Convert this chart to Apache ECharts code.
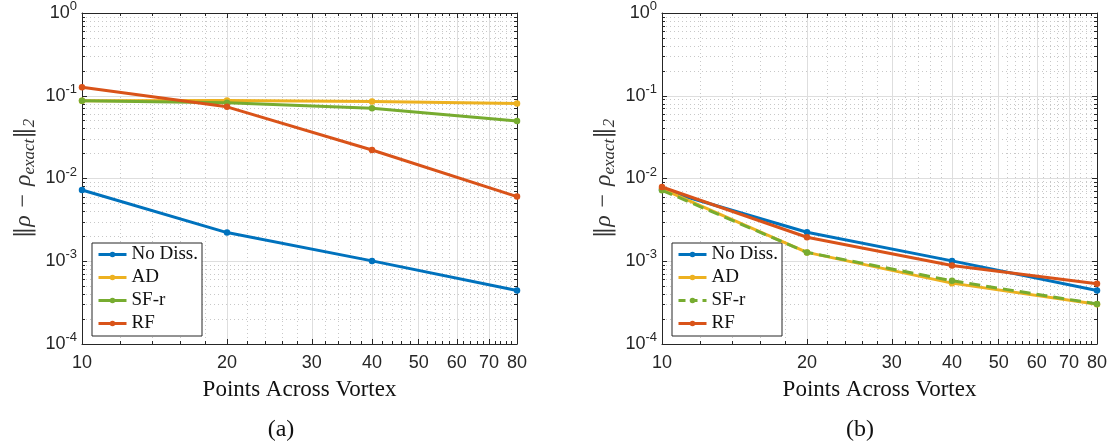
<!DOCTYPE html>
<html>
<head>
<meta charset="utf-8">
<script src="https://cdn.jsdelivr.net/npm/echarts@6/dist/echarts.min.js"></script>
<style>
html, body { margin: 0; padding: 0; background: #fff; }
#chart { width: 1112px; height: 444px; }
</style>
</head>
<body>
<div id="chart"></div>
<script>
var points = [10, 20, 40, 80];
var seriesNames = ['No Diss.', 'AD', 'SF-r', 'RF'];
var seriesColors = ['#0072BD', '#EDB120', '#77AC30', '#D95319'];

// panel (a)
var errA_noDiss = [0.00727, 0.00222, 0.00101, 0.000444];
var errA_ad     = [0.0869, 0.0877, 0.0853, 0.0806];
var errA_sfr    = [0.0870, 0.0822, 0.0708, 0.0494];
var errA_rf     = [0.127, 0.0735, 0.0221, 0.00604];

// panel (b)
var errB_noDiss = [0.0073, 0.00224, 0.00101, 0.000444];
var errB_ad     = [0.0075, 0.00128, 0.000544, 0.000303];
var errB_sfr    = [0.0072, 0.00128, 0.000581, 0.000305];
var errB_rf     = [0.0079, 0.00195, 0.000889, 0.000534];

var xMajorTicks = [10, 20, 30, 40, 50, 60, 70, 80];
var xMinorTicks = [12, 14, 16, 18, 22, 24, 26, 28, 32, 34, 36, 38, 42, 44, 46, 48,
                   52, 54, 56, 58, 62, 64, 66, 68, 72, 74, 76, 78];
var yMajorTicks = [0.0001, 0.001, 0.01, 0.1, 1];
var yMinorTicks = [0.0002, 0.0003, 0.0004, 0.0005, 0.0006, 0.0007, 0.0008, 0.0009,
                   0.002, 0.003, 0.004, 0.005, 0.006, 0.007, 0.008, 0.009,
                   0.02, 0.03, 0.04, 0.05, 0.06, 0.07, 0.08, 0.09,
                   0.2, 0.3, 0.4, 0.5, 0.6, 0.7, 0.8, 0.9];
var panelLabels = ['(a)', '(b)'];

var axisColor = '#262626';
var sansFont = '"Liberation Sans", Arial, sans-serif';
var serifFont = '"Liberation Serif", "DejaVu Serif", serif';
var gridLefts = [82, 662];

function xAxesFor(gi) {
  var base = { type: 'log', logBase: 10, min: 10, max: 80, gridIndex: gi };
  function ax(extra) { return Object.assign({}, base, extra); }
  return [
    ax({
      position: 'bottom',
      axisLine: { show: true, onZero: false, lineStyle: { color: axisColor, width: 1 } },
      axisTick: { show: true, inside: true, length: 5, customValues: xMajorTicks, lineStyle: { color: axisColor } },
      axisLabel: { show: true, customValues: xMajorTicks, margin: 10, color: axisColor, fontFamily: sansFont, fontSize: 18 },
      splitLine: { show: true, lineStyle: { color: '#dedede', width: 1 } },
      name: 'Points Across Vortex', nameLocation: 'middle', nameGap: 34,
      nameTextStyle: { fontFamily: serifFont, fontSize: 23, color: '#111' }
    }),
    ax({
      position: 'bottom',
      axisLine: { show: false, onZero: false },
      axisTick: { show: true, inside: true, length: 3, customValues: xMinorTicks, lineStyle: { color: axisColor } },
      axisLabel: { show: false },
      splitLine: { show: true, lineStyle: { color: '#c8c8c8', width: 1, type: [1, 3] } }
    }),
    ax({
      position: 'top',
      axisLine: { show: true, onZero: false, lineStyle: { color: axisColor, width: 1 } },
      axisTick: { show: true, inside: true, length: 5, customValues: xMajorTicks, lineStyle: { color: axisColor } },
      axisLabel: { show: false },
      splitLine: { show: false }
    }),
    ax({
      position: 'top',
      axisLine: { show: false, onZero: false },
      axisTick: { show: true, inside: true, length: 3, customValues: xMinorTicks, lineStyle: { color: axisColor } },
      axisLabel: { show: false },
      splitLine: { show: false }
    })
  ];
}

function yAxesFor(gi) {
  var base = { type: 'log', logBase: 10, min: 0.0001, max: 1, gridIndex: gi };
  function ax(extra) { return Object.assign({}, base, extra); }
  return [
    ax({
      position: 'left',
      axisLine: { show: true, onZero: false, lineStyle: { color: axisColor, width: 1 } },
      axisTick: { show: true, inside: true, length: 5, customValues: yMajorTicks, lineStyle: { color: axisColor } },
      axisLabel: {
        show: true, customValues: yMajorTicks, margin: 5, color: axisColor,
        formatter: function (v) {
          return '{b|10}{s|' + Math.round(Math.log10(v)) + '}';
        },
        rich: {
          b: { fontFamily: sansFont, fontSize: 18, color: axisColor },
          s: { fontFamily: sansFont, fontSize: 13, color: axisColor, padding: [0, 0, 13, 0] }
        }
      },
      splitLine: { show: true, lineStyle: { color: '#dedede', width: 1 } },
      name: '{bar|\u2016}{n|\u03C1}{op|\u2009\u2212\u2009}{n|\u03C1}{sub|exact}{bar|\u2016}{sub|2}',
      nameLocation: 'middle', nameRotate: 90, nameGap: 44,
      nameTextStyle: {
        color: '#333',
        rich: {
          bar: { fontFamily: '"DejaVu Serif", serif', fontSize: 23, color: '#333' },
          n: { fontFamily: serifFont, fontStyle: 'italic', fontSize: 24, color: '#333' },
          op: { fontFamily: serifFont, fontSize: 24, color: '#333', padding: [0, 3, 0, 3] },
          sub: { fontFamily: serifFont, fontStyle: 'italic', fontSize: 17, color: '#333', padding: [11, 0, 0, 0] }
        }
      }
    }),
    ax({
      position: 'left',
      axisLine: { show: false, onZero: false },
      axisTick: { show: true, inside: true, length: 3, customValues: yMinorTicks, lineStyle: { color: axisColor } },
      axisLabel: { show: false },
      splitLine: { show: true, lineStyle: { color: '#c8c8c8', width: 1, type: [1, 3] } }
    }),
    ax({
      position: 'right',
      axisLine: { show: true, onZero: false, lineStyle: { color: axisColor, width: 1 } },
      axisTick: { show: true, inside: true, length: 5, customValues: yMajorTicks, lineStyle: { color: axisColor } },
      axisLabel: { show: false },
      splitLine: { show: false }
    }),
    ax({
      position: 'right',
      axisLine: { show: false, onZero: false },
      axisTick: { show: true, inside: true, length: 3, customValues: yMinorTicks, lineStyle: { color: axisColor } },
      axisLabel: { show: false },
      splitLine: { show: false }
    })
  ];
}

function makeSeries(gi, idx, values, dashed) {
  return {
    type: 'line',
    name: seriesNames[idx],
    xAxisIndex: gi * 4,
    yAxisIndex: gi * 4,
    data: points.map(function (p, i) { return [p, values[i]]; }),
    symbol: 'circle',
    symbolSize: 6.5,
    showSymbol: true,
    color: seriesColors[idx],
    lineStyle: { width: 3, color: seriesColors[idx], type: dashed ? [11, 6] : 'solid' },
    itemStyle: { color: seriesColors[idx] },
    z: 3 + idx,
    animation: false
  };
}

function legendFor(gi, sfrDashed) {
  return {
    orient: 'vertical',
    left: gridLefts[gi] + 10,
    top: 243,
    backgroundColor: '#fff',
    borderColor: axisColor,
    borderWidth: 1,
    borderRadius: 0,
    padding: [2, 4, 3, 5],
    itemWidth: 28,
    itemHeight: 7,
    itemGap: 4,
    selectedMode: false,
    lineStyle: { width: 3 },
    textStyle: { fontFamily: serifFont, fontSize: 19, color: '#111' },
    data: seriesNames.map(function (n, i) {
      var item = { name: n };
      if (i === 2 && sfrDashed) item.lineStyle = { width: 3, type: [7, 5] };
      return item;
    })
  };
}

var chart = echarts.init(document.getElementById('chart'), null, { renderer: 'canvas' });

var option = {
  animation: false,
  backgroundColor: '#fff',
  grid: [
    { left: gridLefts[0], top: 13, width: 435, height: 331 },
    { left: gridLefts[1], top: 13, width: 435, height: 331 }
  ],
  xAxis: xAxesFor(0).concat(xAxesFor(1)),
  yAxis: yAxesFor(0).concat(yAxesFor(1)),
  legend: [legendFor(0, false), legendFor(1, true)],
  graphic: [
    { type: 'text', style: { text: panelLabels[0], x: 281, y: 430, align: 'center', verticalAlign: 'middle', fontFamily: serifFont, fontSize: 24, fill: '#111' } },
    { type: 'text', style: { text: panelLabels[1], x: 860, y: 430, align: 'center', verticalAlign: 'middle', fontFamily: serifFont, fontSize: 24, fill: '#111' } }
  ],
  series: [
    makeSeries(0, 0, errA_noDiss),
    makeSeries(0, 1, errA_ad),
    makeSeries(0, 2, errA_sfr),
    makeSeries(0, 3, errA_rf),
    makeSeries(1, 0, errB_noDiss),
    makeSeries(1, 1, errB_ad),
    makeSeries(1, 2, errB_sfr, true),
    makeSeries(1, 3, errB_rf)
  ]
};

chart.setOption(option);
</script>
</body>
</html>
